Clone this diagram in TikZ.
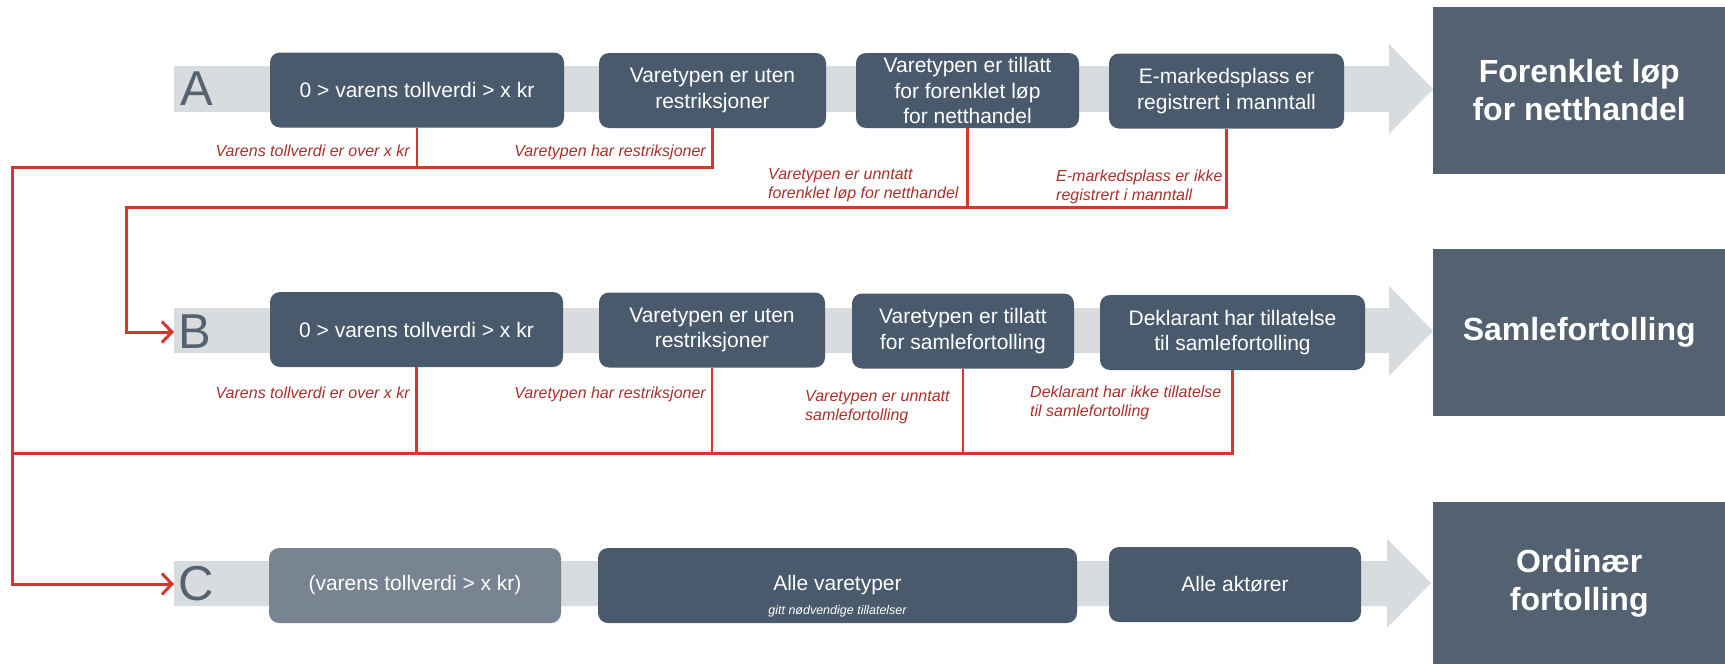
\documentclass[tikz,border=0pt]{standalone}
\usepackage{fontspec}
\setmainfont{Liberation Sans}
\usetikzlibrary{arrows.meta}

\definecolor{boxgrey}{HTML}{4A5A6D}
\definecolor{resgrey}{HTML}{546170}
\definecolor{lightbox}{HTML}{788491}
\definecolor{bandgrey}{HTML}{D9DCDF}
\definecolor{lettergrey}{HTML}{56636F}
\definecolor{flowred}{HTML}{D5372E}
\definecolor{labelred}{HTML}{A8302A}

\begin{document}
\begin{tikzpicture}[x=1pt,y=-1pt,
    band/.style={fill=bandgrey},
    stepbox/.style={fill=boxgrey,rounded corners=10pt,text=white,align=center,
      minimum height=75pt,inner sep=0pt,font=\fontsize{21}{25.5}\selectfont},
    result/.style={fill=resgrey,text=white,align=center,anchor=west,inner sep=0pt,
      minimum width=292pt,minimum height=167pt,font=\fontsize{32}{38}\selectfont\bfseries},
    letter/.style={text=lettergrey,anchor=west,inner ysep=0pt,inner xsep=4pt,
      font=\fontsize{49}{49}\selectfont},
    flow/.style={draw=flowred,line width=3pt},
    branch/.style={draw=flowred,line width=2.2pt},
    barb/.style={-{Straight Barb[length=10pt,width=21pt]}},
    reason/.style={text=labelred,inner sep=0pt,align=left,
      font=\fontsize{16}{19}\selectfont\itshape}]
  \useasboundingbox (0,0) rectangle (1725,664);

  % grey bands with arrow heads
  \fill[band] (174,66) -- (1389,66) -- (1389,44) -- (1433,89) -- (1389,134) -- (1389,112) -- (174,112) -- cycle;
  \fill[band] (174,308) -- (1389,308) -- (1389,286) -- (1433,331) -- (1389,376) -- (1389,353) -- (174,353) -- cycle;
  \fill[band] (174,561) -- (1387,561) -- (1387,539) -- (1431,583) -- (1387,628) -- (1387,606) -- (174,606) -- cycle;

  % row A
  \node[letter] (A) at (176,89) {A};
  \node[stepbox,minimum width=294pt] (a1) at (417,90) {0 > varens tollverdi > x kr};
  \node[stepbox,minimum width=227pt] (a2) at (712.5,90.5) {Varetypen er uten\\restriksjoner};
  \node[stepbox,minimum width=223pt] (a3) at (967.5,90.5) {Varetypen er tillatt\\for forenklet løp\\for netthandel};
  \node[stepbox,minimum width=235pt] (a4) at (1226.5,91) {E-markedsplass er\\registrert i manntall};
  \node[result] (resA) at (1433,90.5) {Forenklet løp\\for netthandel};

  % row B
  \node[letter] (B) at (174,332) {B};
  \node[stepbox,minimum width=293pt] (b1) at (416.5,329.5) {0 > varens tollverdi > x kr};
  \node[stepbox,minimum width=226pt] (b2) at (712,330) {Varetypen er uten\\restriksjoner};
  \node[stepbox,minimum width=222pt] (b3) at (963,331) {Varetypen er tillatt\\for samlefortolling};
  \node[stepbox,minimum width=265pt] (b4) at (1232.5,332.5) {Deklarant har tillatelse\\til samlefortolling};
  \node[result] (resB) at (1433,332.5) {Samlefortolling};

  % row C
  \node[letter] (C) at (174,584) {C};
  \node[stepbox,fill=lightbox,minimum width=292pt] (c1) at (415,585.5) {(varens tollverdi > x kr)};
  \node[stepbox,minimum width=479pt] (c2) at (837.5,585.5) {Alle varetyper};
  \node[text=white,inner sep=0pt,font=\fontsize{12.5}{14}\selectfont\itshape] (c2sub) at (837.5,611) {gitt nødvendige tillatelser};
  \node[stepbox,minimum width=252pt] (c3) at (1235,584.5) {Alle aktører};
  \node[result,minimum height=162pt] (resC) at (1433,583) {Ordinær\\fortolling};

  % red connectors
  \coordinate (ja) at (12,167);
  \coordinate (jb) at (126,207);
  \coordinate (jc) at (12,453);
  \draw[flow,barb] (a2.south) |- (ja) |- (C.west);
  \draw[branch] (a1.south) -- (a1.south |- ja);
  \draw[flow,barb] (a4.south) |- (jb) |- (B.west);
  \draw[branch] (a3.south) -- (a3.south |- jb);
  \draw[flow] (b4.south) |- (jc);
  \draw[branch] (b1.south) -- (b1.south |- jc);
  \draw[branch] (b2.south) -- (b2.south |- jc);
  \draw[branch] (b3.south) -- (b3.south |- jc);

  % reasons
  \node[reason,anchor=base east] (ra1) at (410,156) {Varens tollverdi er over x kr};
  \node[reason,anchor=base east] (ra2) at (706,156) {Varetypen har restriksjoner};
  \node[reason,anchor=north west] (ra3) at (768,168.5) {Varetypen er unntatt\\forenklet løp for netthandel};
  \node[reason,anchor=north west] (ra4) at (1056,170) {E-markedsplass er ikke\\registrert i manntall};
  \node[reason,anchor=base east] (rb1) at (410,398) {Varens tollverdi er over x kr};
  \node[reason,anchor=base east] (rb2) at (706,398) {Varetypen har restriksjoner};
  \node[reason,anchor=north west] (rb3) at (805,390.5) {Varetypen er unntatt\\samlefortolling};
  \node[reason,anchor=north west] (rb4) at (1030,385.5) {Deklarant har ikke tillatelse\\til samlefortolling};
\end{tikzpicture}
\end{document}
